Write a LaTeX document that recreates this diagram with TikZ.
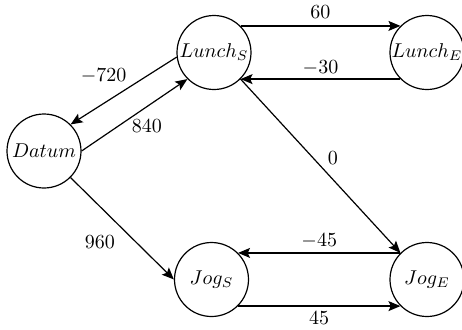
\documentclass[tikz,border=0pt]{standalone}
\usetikzlibrary{arrows.meta}
\begin{document}
\begin{tikzpicture}[x=0.5pt,y=-0.5pt,
  state/.style={draw, circle, minimum size=37pt, inner sep=0pt, line width=0.6pt},
  edge/.style={-{Stealth[length=6pt,width=5pt,inset=1.2pt]}, line width=0.6pt}]
\useasboundingbox (0,0) rectangle (462,329);
\node[state] (d)  at (44,151)  {$Datum$};
\node[state] (ls) at (214,52.5) {$Lunch_S$};
\node[state] (le) at (427,52.5) {$Lunch_E$};
\node[state] (js) at (211.5,279.5) {$Jog_S$};
\node[state] (je) at (427,279.5) {$Jog_E$};
\draw[edge] (ls.north east) -- node[above] {$60$} (le.north west);
\draw[edge] (le.south west) -- node[above, yshift=-1.5pt] {$-30$} (ls.south east);
\draw[edge] (ls.187) -- node[above left, xshift=5pt] {$-720$} (d.north east);
\draw[edge] (d.east) -- node[below right, xshift=-5pt, yshift=1.5pt] {$840$} (ls.south west);
\draw[edge] (d.south east) -- node[below left] {$960$} (js.west);
\draw[edge] (ls.south east) -- node[above right, yshift=-3pt] {$0$} (je.north west);
\draw[edge] (je.north west) -- node[above, yshift=-1.5pt] {$-45$} (js.north east);
\draw[edge] (js.south east) -- node[below, yshift=1pt] {$45$} (je.south west);
\end{tikzpicture}
\end{document}
